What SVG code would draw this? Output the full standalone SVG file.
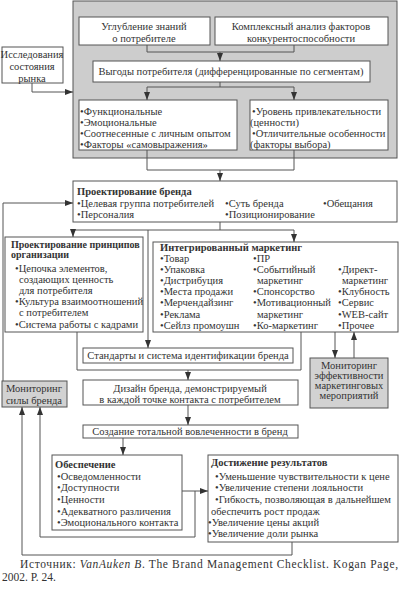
<svg xmlns="http://www.w3.org/2000/svg" width="400" height="607" viewBox="0 0 400 607">
<style>
text{font-family:"Liberation Serif","DejaVu Serif",serif;font-size:10.5px;fill:#333}
.b{font-weight:bold}
.c{text-anchor:middle}
.box{fill:#fff;stroke:#555;stroke-width:1}
.gray{fill:#cdcdcd;stroke:#555;stroke-width:1}
.mon{fill:#d2d2d2;stroke:#555;stroke-width:1}
.ln{fill:none;stroke:#555;stroke-width:1}
.ar{fill:none;stroke:#555;stroke-width:1;marker-end:url(#ah)}
</style>
<defs>
<marker id="ah" viewBox="0 0 8 8" refX="8" refY="4" markerWidth="8" markerHeight="8" markerUnits="userSpaceOnUse" orient="auto">
<path d="M0,1 L8,4 L0,7 Z" fill="#333"/>
</marker>
</defs>
<rect width="400" height="607" fill="#fff"/>

<g id="block-top">
<rect class="gray" x="73" y="1" width="324" height="157"/>
</g>
<g id="n-knowledge">
<rect class="box" x="79" y="17" width="131" height="28"/>
<text class="c" x="144" y="30">Углубление знаний</text>
<text class="c" x="144" y="42">о потребителе</text>
</g>
<g id="n-analysis">
<rect class="box" x="215" y="17" width="173" height="28"/>
<text class="c" x="301" y="30">Комплексный анализ факторов</text>
<text class="c" x="301" y="42">конкурентоспособности</text>
</g>
<g id="n-benefits">
<rect class="box" x="93" y="61" width="277" height="21"/>
<text class="c" x="231" y="75">Выгоды потребителя (дифференцированные по сегментам)</text>
</g>
<g id="n-research">
<rect class="box" x="2" y="47" width="61" height="36"/>
<text class="c" x="32" y="58">Исследования</text>
<text class="c" x="32" y="70">состояния</text>
<text class="c" x="32" y="82">рынка</text>
</g>
<g id="n-benefit-types">
<rect class="box" x="79" y="100" width="158" height="50"/>
<text x="80" y="115">•Функциональные</text>
<text x="80" y="126">•Эмоциональные</text>
<text x="80" y="137">•Соотнесенные с личным опытом</text>
<text x="80" y="148">•Факторы «самовыражения»</text>
</g>
<g id="n-attractiveness">
<rect class="box" x="250" y="100" width="138" height="50"/>
<text x="252" y="115">•Уровень привлекательности</text>
<text x="250" y="126">(ценности)</text>
<text x="252" y="137">•Отличительные особенности</text>
<text x="250" y="148">(факторы выбора)</text>
</g>
<g id="n-brand-design">
<rect class="box" x="73" y="181" width="324" height="41"/>
<text class="b" x="77" y="195">Проектирование бренда</text>
<text x="77" y="207">•Целевая группа потребителей</text>
<text x="225" y="207">•Суть бренда</text>
<text x="323" y="207">•Обещания</text>
<text x="77" y="218">•Персоналия</text>
<text x="225" y="218">•Позиционирование</text>
</g>
<g id="n-org">
<rect class="box" x="5" y="237" width="138" height="95"/>
<text class="b" x="11" y="248" style="font-size:10px">Проектирование принципов</text>
<text class="b" x="11" y="258" style="font-size:10px">организации</text>
<text x="15" y="272">•Цепочка элементов,</text>
<text x="19" y="283">создающих ценность</text>
<text x="19" y="294">для потребителя</text>
<text x="15" y="305">•Культура взаимоотношений</text>
<text x="19" y="316">с потребителем</text>
<text x="15" y="328">•Система работы с кадрами</text>
</g>
<g id="n-imc">
<rect class="box" x="153" y="242" width="245" height="90"/>
<text class="b" x="160" y="251">Интегрированный маркетинг</text>
<text x="160" y="262">•Товар</text>
<text x="160" y="273">•Упаковка</text>
<text x="160" y="284">•Дистрибуция</text>
<text x="160" y="295">•Места продажи</text>
<text x="160" y="306">•Мерчендайзинг</text>
<text x="160" y="318">•Реклама</text>
<text x="160" y="329">•Сейлз промоушн</text>
<text x="253" y="262">•ПР</text>
<text x="253" y="273">•Событийный</text>
<text x="257" y="284">маркетинг</text>
<text x="253" y="295">•Спонсорство</text>
<text x="253" y="306">•Мотивационный</text>
<text x="257" y="318">маркетинг</text>
<text x="253" y="329">•Ко-маркетинг</text>
<text x="338" y="273">•Директ-</text>
<text x="342" y="284">маркетинг</text>
<text x="338" y="295">•Клубность</text>
<text x="338" y="306">•Сервис</text>
<text x="338" y="318">•WEB-сайт</text>
<text x="338" y="329">•Прочее</text>
</g>
<g id="n-standards">
<rect class="box" x="83" y="348" width="210" height="15"/>
<text class="c" x="188" y="359">Стандарты и система идентификации бренда</text>
</g>
<g id="n-monitor-eff">
<rect class="mon" x="310" y="358" width="78" height="50"/>
<text class="c" x="349" y="369">Мониторинг</text>
<text class="c" x="349" y="379">эффективности</text>
<text class="c" x="349" y="389">маркетинговых</text>
<text class="c" x="349" y="399">мероприятий</text>
</g>
<g id="n-design">
<rect class="box" x="83" y="380" width="215" height="25"/>
<text class="c" x="190" y="392">Дизайн бренда, демонстрируемый</text>
<text class="c" x="190" y="403">в каждой точке контакта с потребителем</text>
</g>
<g id="n-monitor-strength">
<rect class="mon" x="2" y="381" width="65" height="26"/>
<text class="c" x="34" y="392">Мониторинг</text>
<text class="c" x="34" y="404">силы бренда</text>
</g>
<g id="n-involvement">
<rect class="box" x="83" y="425" width="215" height="13"/>
<text class="c" x="190" y="435">Создание тотальной вовлеченности в бренд</text>
</g>
<g id="n-provision">
<rect class="box" x="52" y="455" width="130" height="75"/>
<text class="b" x="55" y="468">Обеспечение</text>
<text x="57" y="480">•Осведомленности</text>
<text x="57" y="491">•Доступности</text>
<text x="57" y="503">•Ценности</text>
<text x="57" y="515">•Адекватного различения</text>
<text x="57" y="526">•Эмоционального контакта</text>
</g>
<g id="n-results">
<rect class="box" x="208" y="455" width="190" height="87"/>
<text class="b" x="211" y="466">Достижение результатов</text>
<text x="215" y="480">•Уменьшение чувствительности к цене</text>
<text x="215" y="491">•Увеличение степени лояльности</text>
<text x="215" y="503">•Гибкость, позволяющая в дальнейшем</text>
<text x="211" y="515">обеспечить рост продаж</text>
<text x="208" y="526">•Увеличение цены акций</text>
<text x="208" y="537">•Увеличение доли рынка</text>
</g>

<g id="connectors">
<path class="ln" d="M147,45 V52 H294 V45"/>
<path class="ar" d="M220,52 V61"/>
<path class="ln" d="M220,82 V87 M147,87 H294"/>
<path class="ar" d="M147,87 V100"/>
<path class="ar" d="M294,87 V100"/>
<path class="ar" d="M32,83 V92 H73"/>
<path class="ln" d="M147,150 V170 H294 V150"/>
<path class="ar" d="M220,170 V181"/>
<path class="ar" d="M3,381 V203 H73"/>
<path class="ln" d="M220,222 V230 M73,230 H294"/>
<path class="ar" d="M73,230 V237"/>
<path class="ar" d="M294,230 V242"/>
<path class="ar" d="M148,230 V348"/>
<path class="ln" d="M77,332 V370 H301 V332"/>
<path class="ar" d="M188,370 V380"/>
<path class="ar" d="M335,332 V358"/>
<path class="ar" d="M354,358 V332"/>
<path class="ar" d="M188,405 V425"/>
<path class="ar" d="M123,438 V455"/>
<path class="ar" d="M182,491 H208"/>
<path class="ar" d="M195,491 V537 H40 V407"/>
<path class="ar" d="M292,542 V555 H22 V407"/>
</g>

<g id="source">
<text x="20" y="568" style="font-size:11.5px" textLength="378" lengthAdjust="spacing">Источник: <tspan font-style="italic">VanAuken B</tspan>. The Brand Management Checklist. Kogan Page,</text>
<text x="2" y="581" style="font-size:11.5px">2002. P. 24.</text>
</g>
</svg>
